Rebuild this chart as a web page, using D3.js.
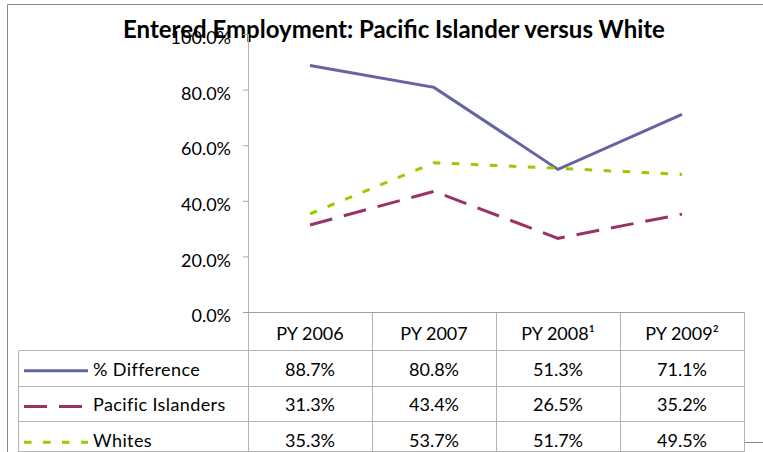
<!DOCTYPE html>
<html>
<head>
<meta charset="utf-8">
<script src="https://cdn.jsdelivr.net/npm/d3@7"></script>
<style>
  body { margin: 0; background: #fff; }
  svg { display: block; font-family: Lato, "Open Sans", sans-serif; }
</style>
</head>
<body>
<div id="chart"></div>
<script>
// chart data
var categories = ["PY 2006", "PY 2007", "PY 2008\u00b9", "PY 2009\u00b2"];
var seriesNames = ["% Difference", "Pacific Islanders", "Whites"];
var pctDifference = [88.7, 80.8, 51.3, 71.1];
var pacificIslanders = [31.3, 43.4, 26.5, 35.2];
var whites = [35.3, 53.7, 51.7, 49.5];
var yTicks = [0, 20, 40, 60, 80, 100];

var W = 763, H = 452;
var svg = d3.select("#chart").append("svg").attr("width", W).attr("height", H);

var series = [
    { name: seriesNames[0], values: pctDifference, color: "#6464a2", dash: null },
    { name: seriesNames[1], values: pacificIslanders, color: "#993366", dash: "23,12" },
    { name: seriesNames[2], values: whites, color: "#99cc00", dash: "7.5,11.5" }
];

var x = d3.scaleBand().domain(categories).range([248, 744]);
var y = d3.scaleLinear().domain([0, 100]).range([312, 34]);
var rows = d3.scaleBand().domain(["head"].concat(seriesNames)).range([314, 457]);

// outer frame
svg.append("path")
    .attr("d", "M7.5,453 V4.5 H770 M744,442.5 H770")
    .attr("fill", "none").attr("stroke", "#878787").attr("stroke-width", 1);

// title (overlaps the 100% label, as in the original)
svg.append("text")
    .attr("x", 394).attr("y", 38)
    .attr("text-anchor", "middle")
    .attr("font-size", 24).attr("font-weight", "bold")
    .attr("fill", "#000")
    .text("Entered Employment: Pacific Islander versus White");

// y axis
var yAxis = svg.append("g")
    .attr("transform", "translate(248,0)")
    .call(d3.axisLeft(y).tickValues(yTicks).tickSize(5).tickPadding(12)
        .tickFormat(d => d.toFixed(1) + "%"));
yAxis.select(".domain").remove();
yAxis.selectAll(".tick line").attr("stroke", "#a6a6a6");
yAxis.selectAll(".tick text")
    .attr("font-size", 18).attr("font-family", "Lato, sans-serif")
    .attr("fill", "#000").attr("dy", "0.54em");

// table grid
var grid = svg.append("g").attr("stroke", "#b4b4b4").attr("fill", "none");
var colEdges = categories.map(c => x(c)).concat([x.range()[1]]);
colEdges.forEach((cx, i) => {
    grid.append("line")
        .attr("x1", cx + 0.5).attr("x2", cx + 0.5)
        .attr("y1", i == 0 ? 34 : 312).attr("y2", 453);
});
seriesNames.forEach(n => {
    grid.append("line")
        .attr("x1", 18.5).attr("x2", 744)
        .attr("y1", Math.round(rows(n)) + 0.5).attr("y2", Math.round(rows(n)) + 0.5);
});
grid.append("line")
    .attr("x1", 18.5).attr("x2", 18.5)
    .attr("y1", Math.round(rows(seriesNames[0])) + 0.5).attr("y2", 453);
grid.append("line")
    .attr("x1", 18.5).attr("x2", 744)
    .attr("y1", 451.5).attr("y2", 451.5);

// baseline
svg.append("line")
    .attr("x1", 243).attr("x2", 744)
    .attr("y1", y(0) + 0.5).attr("y2", y(0) + 0.5)
    .attr("stroke", "#a3a385");

// header labels
svg.append("g").selectAll("text")
    .data(categories)
    .join("text")
    .attr("x", d => x(d) + x.bandwidth() / 2)
    .attr("y", rows("head") + rows.bandwidth() / 2 + 8)
    .attr("text-anchor", "middle")
    .attr("font-size", 18)
    .text(d => d);

// table values + legend
series.forEach(s => {
    var cy = rows(s.name) + rows.bandwidth() / 2;
    var g = svg.append("g");
    g.selectAll("text.v")
        .data(s.values)
        .join("text")
        .attr("class", "v")
        .attr("x", (d, i) => x(categories[i]) + x.bandwidth() / 2)
        .attr("y", cy + 8)
        .attr("text-anchor", "middle")
        .attr("font-size", 18)
        .text(d => d.toFixed(1) + "%");
    g.append("line")
        .attr("x1", 24).attr("x2", 88)
        .attr("y1", cy + 3).attr("y2", cy + 3)
        .attr("stroke", s.color).attr("stroke-width", 3)
        .attr("stroke-dasharray", s.dash);
    g.append("text")
        .attr("x", 93).attr("y", cy + 8)
        .attr("font-size", 18)
        .attr("letter-spacing", 0.4)
        .text(s.name);
});

// lines
var line = d3.line()
    .x((d, i) => x(categories[i]) + x.bandwidth() / 2)
    .y(d => y(d));

svg.append("g").selectAll("path")
    .data(series)
    .join("path")
    .attr("d", d => line(d.values))
    .attr("fill", "none")
    .attr("stroke", d => d.color)
    .attr("stroke-width", 3)
    .attr("stroke-dasharray", d => d.dash);
</script>
</body>
</html>
